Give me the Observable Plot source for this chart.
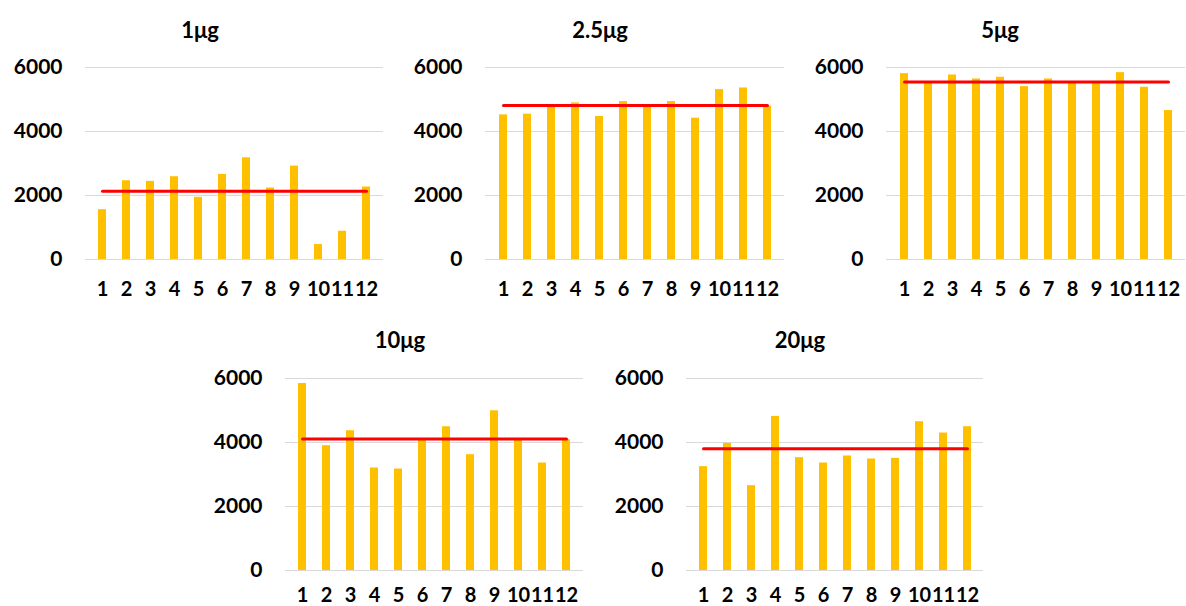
<!DOCTYPE html>
<html><head><meta charset="utf-8">
<script src="https://cdn.jsdelivr.net/npm/d3@7"></script>
<script src="https://cdn.jsdelivr.net/npm/@observablehq/plot@0.6"></script>
<style>
html,body{margin:0;padding:0;background:#fff;}
#root{position:relative;width:1186px;height:606px;overflow:hidden;font-family:Lato,sans-serif;}
.panel{position:absolute;width:400px;}
.panel svg{max-width:none !important;}
.ttl{position:absolute;width:400px;text-align:center;font:bold 22px Lato,sans-serif;line-height:22px;color:#000;}
</style></head><body><div id="root"></div>
<script>
const categories = ["1","2","3","4","5","6","7","8","9","10","11","12"];
const titles = ["1\u03bcg","2.5\u03bcg","5\u03bcg","10\u03bcg","20\u03bcg"];
const values1ug = [1558, 2462, 2442, 2587, 1943, 2660, 3179, 2234, 2919, 468, 883, 2265];
const values2_5ug = [4519, 4540, 4790, 4894, 4468, 4935, 4790, 4935, 4416, 5309, 5361, 4790];
const values5ug = [5808, 5530, 5766, 5642, 5694, 5403, 5642, 5550, 5540, 5839, 5382, 4655];
const values10ug = [5845, 3900, 4368, 3203, 3172, 4120, 4493, 3619, 4992, 4110, 3359, 4087];
const values20ug = [3245, 3973, 2652, 4815, 3526, 3359, 3578, 3484, 3505, 4649, 4295, 4493];
const meanLines = [2130, 4810, 5545, 4108, 3807];
const yTicks = [0, 2000, 4000, 6000];

const series = [values1ug, values2_5ug, values5ug, values10ug, values20ug];

const layouts = [
  {left:0,   top:0,   width:400, height:300, ml:85, mr:17, mt:67, mb:41, xpad:22, titleY:30},
  {left:400, top:0,   width:400, height:300, ml:85, mr:16, mt:67, mb:41, xpad:22, titleY:30},
  {left:800, top:0,   width:400, height:300, ml:86, mr:15, mt:67, mb:41, xpad:22, titleY:30},
  {left:200, top:306, width:400, height:300, ml:85, mr:17, mt:72, mb:36, xpad:17, titleY:340},
  {left:600, top:306, width:400, height:300, ml:86, mr:17, mt:72, mb:36, xpad:17, titleY:340}
];

const root = document.getElementById("root");

series.forEach((vals, i) => {
  const L = layouts[i];
  const data = categories.map((c, j) => ({cat: c, value: vals[j]}));
  const svg = Plot.plot({
    width: L.width, height: L.height,
    marginLeft: L.ml, marginRight: L.mr, marginTop: L.mt, marginBottom: L.mb,
    style: {fontFamily: "Lato, sans-serif", fontWeight: "bold", color: "#000", background: "transparent", overflow: "visible", maxWidth: "none"},
    x: {type: "band", domain: categories, paddingInner: 0.68, paddingOuter: 0.34},
    y: {domain: [0, 6000]},
    marks: [
      Plot.gridY(yTicks, {stroke: "#d9d9d9", strokeOpacity: 1, strokeWidth: 1}),
      Plot.axisY(yTicks, {tickSize: 0, tickPadding: 23, fontSize: 21, fontWeight: "bold", label: null, tickFormat: d3.format("d")}),
      Plot.axisX({tickSize: 0, tickPadding: L.xpad, fontSize: 20, fontWeight: "bold", label: null}),
      Plot.barY(data, {x: "cat", y: "value", fill: "#FFC000"}),
      Plot.line(categories, {x: d => d, y: () => meanLines[i], stroke: "#FF0000", strokeWidth: 3})
    ]
  });
  const wrap = document.createElement("div");
  wrap.className = "panel";
  wrap.style.left = L.left + "px";
  wrap.style.top = L.top + "px";
  wrap.appendChild(svg);
  root.appendChild(wrap);

  const t = document.createElement("div");
  t.className = "ttl";
  t.style.left = L.left + "px";
  t.style.top = (L.titleY - 11) + "px";
  t.textContent = titles[i];
  root.appendChild(t);
});
</script>
</body></html>
